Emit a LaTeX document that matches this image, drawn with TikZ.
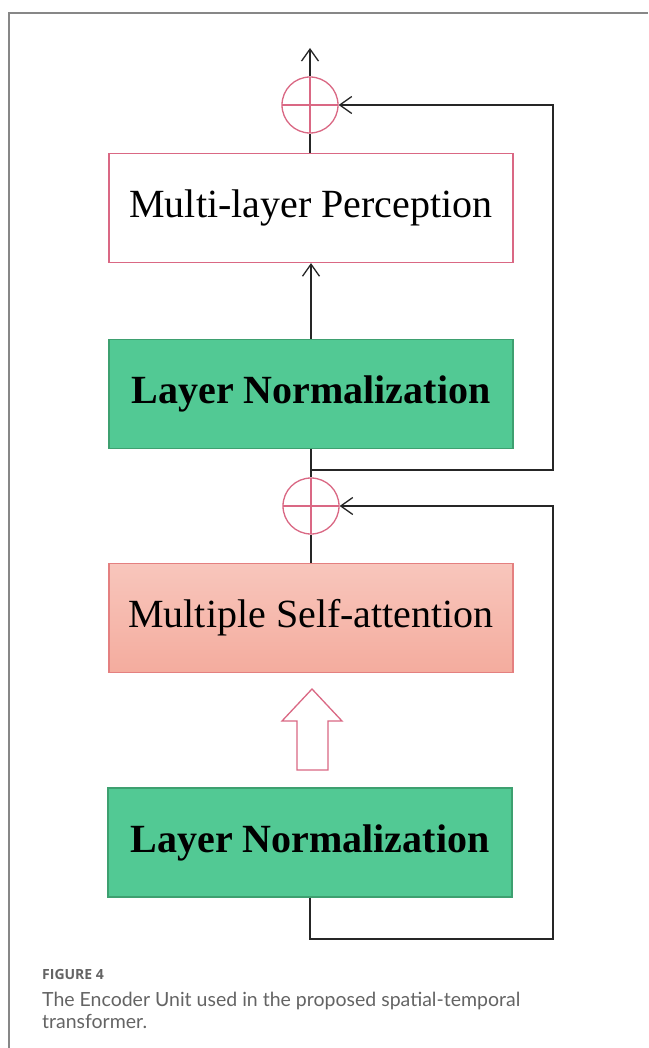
\documentclass[tikz,border=0pt]{standalone}
\usepackage{fontspec}
\setmainfont{Liberation Serif}
\newfontfamily\capfont{Lato}
\newfontfamily\figfont{Open Sans}
\usetikzlibrary{arrows.meta}
\definecolor{lngreen}{RGB}{82,201,148}
\definecolor{lnborder}{RGB}{62,160,112}
\definecolor{pinkline}{RGB}{218,104,132}
\definecolor{msatop}{RGB}{248,198,188}
\definecolor{msabot}{RGB}{244,172,158}
\definecolor{msaborder}{RGB}{228,128,128}
\definecolor{capgray}{RGB}{100,100,100}
\definecolor{framegray}{RGB}{135,135,135}
\tikzset{
  boxbase/.style={rectangle, minimum width=404pt, minimum height=109pt, inner sep=0pt,
    font=\fontsize{40}{48}\selectfont, line width=1.2pt},
  mlpbox/.style={boxbase, draw=pinkline, fill=white},
  lnbox/.style={boxbase, draw=lnborder, fill=lngreen, font=\fontsize{40}{48}\selectfont\bfseries},
  msabox/.style={boxbase, draw=msaborder, top color=msatop, bottom color=msabot},
  addc/.style={circle, draw=pinkline, line width=1.3pt, minimum size=56pt, inner sep=0pt,
    path picture={\draw[pinkline, line width=1.2pt]
      (path picture bounding box.north) -- (path picture bounding box.south)
      (path picture bounding box.west) -- (path picture bounding box.east);}},
  conn/.style={draw=black!85, line width=1.3pt},
  barb/.style={-{Straight Barb[length=12pt,width=17pt]}},
  blockarrow/.style={draw=pinkline, fill=white, line width=1.3pt, line join=miter},
  captxt/.style={text=capgray, anchor=base west, inner sep=0pt}
}
\begin{document}
\begin{tikzpicture}[x=1pt,y=-1pt]
\useasboundingbox (0,0) rectangle (648,1048);
\fill[white] (0,0) rectangle (648,1048);
% frame
\draw[framegray, line width=1.5pt] (9,1048) -- (9,13) -- (648,13);
% nodes
\node[addc] (c1) at (310,105) {};
\node[mlpbox] (mlp) at (311,208) {Multi-layer Perception};
\node[lnbox] (ln1) at (311,394) {Layer Normalization};
\node[addc] (c2) at (311,506) {};
\node[msabox] (msa) at (311,618) {Multiple Self-attention};
\node[lnbox] (ln2) at (310,842.5) {Layer Normalization};
\coordinate (top) at (310,48);
\coordinate (r1) at (553,470);
\coordinate (b2) at (553,939);
% connectors
\draw[conn, barb] (c1.north) -- (top);
\draw[conn] (c1.south |- mlp.north) -- (c1.south);
\draw[conn, barb] (ln1.north) -- (mlp.south);
\draw[conn] (ln1.south) -- (c2.north);
\draw[conn] (c2.south) -- (msa.north);
\draw[conn, barb] (ln1.south |- r1) -- (r1) |- (c1.east);
\draw[conn, barb] (ln2.south) |- (b2) |- (c2.east);
% block arrow
\draw[blockarrow] (312,689) -- (342,721) -- (328,721) -- (328,770) -- (297,770) -- (297,721) -- (282,721) -- cycle;
% caption
\node[captxt, font=\figfont\bfseries\fontsize{14}{17}\selectfont] (fig) at (42,979) {FIGURE 4};
\node[captxt, font=\capfont\fontsize{19.5}{23}\selectfont] (cap1) at (42,1006) {The Encoder Unit used in the proposed spatial-temporal};
\node[captxt, font=\capfont\fontsize{19.5}{23}\selectfont] (cap2) at (42,1028) {transformer.};
\end{tikzpicture}
\end{document}
